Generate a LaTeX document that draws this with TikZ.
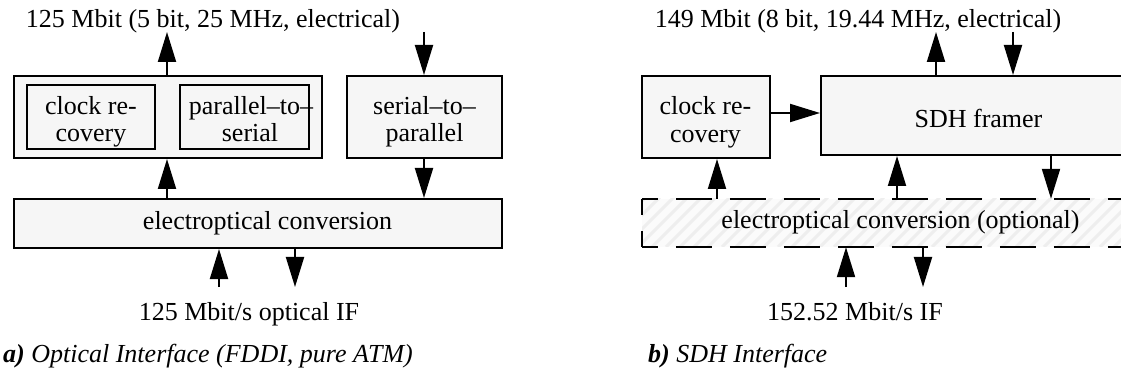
\documentclass[tikz,border=0pt]{standalone}
\usepackage{fontspec}
\setmainfont{Liberation Serif}
\usetikzlibrary{arrows.meta}
\definecolor{boxfill}{RGB}{246,246,246}
\definecolor{hatchbg}{RGB}{251,251,251}
\definecolor{hatchcol}{RGB}{238,238,238}
\begin{document}
\begin{tikzpicture}[x=1pt,y=-1pt,
  box/.style={draw,line width=2pt,fill=boxfill,inner sep=0pt},
  lbl/.style={inner sep=0pt,anchor=base,font=\fontsize{26}{28}\selectfont},
  arr/.style={line width=2pt,-{Triangle[length=30pt,width=18pt]}},
  dashedge/.style={line width=2pt}]
\useasboundingbox (0,0) rectangle (1121,379);
% ---- part a ----
\node[box,minimum width=308pt,minimum height=82pt] (outerA) at (168,117) {};
\node[box,minimum width=128pt,minimum height=64pt] (clkA) at (91,117) {};
\node[box,minimum width=129pt,minimum height=64pt] (p2s) at (244.5,117) {};
\node[box,minimum width=155pt,minimum height=82pt] (s2p) at (424.5,117) {};
\node[box,minimum width=488pt,minimum height=49pt] (eoA) at (258,223.5) {};
% ---- part b ----
\node[box,minimum width=128pt,minimum height=82pt] (clkB) at (706,117) {};
\node[box,minimum width=340pt,minimum height=79pt] (sdh) at (991,115.5) {};
\node[inner sep=0pt,minimum width=520pt,minimum height=48pt,
  path picture={
    \fill[hatchbg] (path picture bounding box.south west) rectangle (path picture bounding box.north east);
    \foreach \i in {-60,-46,...,540}
      \draw[hatchcol,line width=3pt] ([xshift=\i pt]path picture bounding box.south west) -- ++(60pt,60pt);
  }] (eoB) at (902,223) {};
\draw[dashedge,dash pattern=on 36pt off 18pt,dash phase=20pt] (eoB.north west) -- (eoB.north east);
\draw[dashedge,dash pattern=on 36pt off 18pt,dash phase=20pt] (eoB.south west) -- (eoB.south east);
\draw[dashedge,dash pattern=on 16pt off 16pt] (eoB.north west) -- (eoB.south west);
% ---- texts ----
\node[lbl] (tTopA) at (213,28) {125 Mbit (5 bit, 25 MHz, electrical)};
\node[lbl] (tTopB) at (858,28) {149 Mbit (8 bit, 19.44 MHz, electrical)};
\node[lbl] (tClkA1) at (91,115) {clock re-};
\node[lbl] (tClkA2) at (91,142) {covery};
\node[lbl] (tP2s1) at (251,115) {parallel–to–};
\node[lbl] (tP2s2) at (250,142) {serial};
\node[lbl] (tS2p1) at (424.5,115) {serial–to–};
\node[lbl] (tS2p2) at (424.5,142) {parallel};
\node[lbl] (tEoA) at (267.5,230) {electroptical conversion};
\node[lbl] (tClkB1) at (705.5,115) {clock re-};
\node[lbl] (tClkB2) at (705.5,143) {covery};
\node[lbl] (tSdh) at (978.5,128) {SDH framer};
\node[lbl] (tEoB) at (900.5,229) {electroptical conversion (optional)};
\node[lbl] (tBotA) at (249,320) {125 Mbit/s optical IF};
\node[lbl] (tBotB) at (855,320) {152.52 Mbit/s IF};
\node[lbl,anchor=base east] (capA) at (413,362) {\itshape\textbf{a)} Optical Interface (FDDI, pure ATM)};
\node[lbl,anchor=base west] (capB) at (648,362) {\itshape\textbf{b)} SDH Interface};
% ---- arrows a ----
\coordinate (a1t) at (167,32);
\coordinate (a2t) at (424,32);
\coordinate (a5b) at (219,287);
\coordinate (a6b) at (295,287);
\draw[arr] (outerA.north -| a1t) -- (a1t);
\draw[arr] (a2t) -- (s2p.north -| a2t);
\draw[arr] (eoA.north -| a1t) -- (outerA.south -| a1t);
\draw[arr] (s2p.south -| a2t) -- (eoA.north -| a2t);
\draw[arr] (a5b) -- (eoA.south -| a5b);
\draw[arr] (eoA.south -| a6b) -- (a6b);
% ---- arrows b ----
\coordinate (b1y) at (0,113);
\coordinate (b2t) at (936,32);
\coordinate (b3t) at (1013,32);
\coordinate (b4) at (717,0);
\coordinate (b5) at (897,0);
\coordinate (b6) at (1051,0);
\coordinate (b7b) at (846,287);
\coordinate (b8b) at (923,287);
\draw[arr] (clkB.east |- b1y) -- (sdh.west |- b1y);
\draw[arr] (sdh.north -| b2t) -- (b2t);
\draw[arr] (b3t) -- (sdh.north -| b3t);
\draw[arr] (eoB.north -| b4) -- (clkB.south -| b4);
\draw[arr] (eoB.north -| b5) -- (sdh.south -| b5);
\draw[arr] (sdh.south -| b6) -- (eoB.north -| b6);
\draw[arr] (b7b) -- (eoB.south -| b7b);
\draw[arr] (eoB.south -| b8b) -- (b8b);
\end{tikzpicture}
\end{document}
